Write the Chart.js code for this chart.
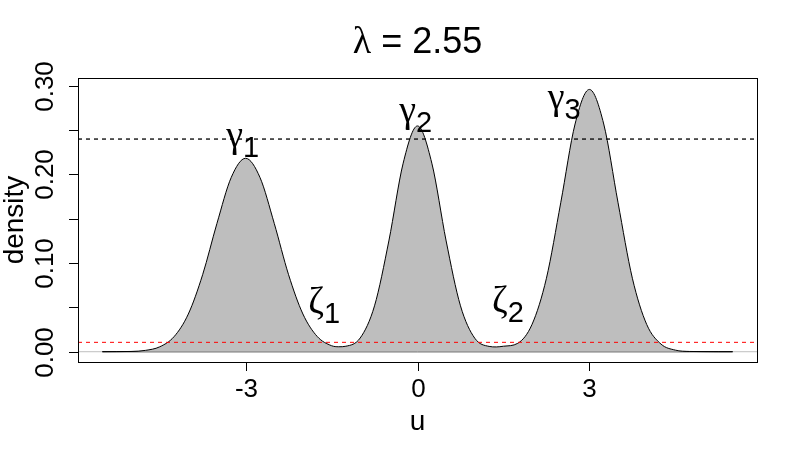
<!DOCTYPE html>
<html>
<head>
<meta charset="utf-8">
<script src="https://cdn.jsdelivr.net/npm/chart.js@4.4.1/dist/chart.umd.min.js"></script>
<style>
  html, body { margin: 0; padding: 0; background: #fff; }
  #wrap { width: 798px; height: 460px; }
</style>
</head>
<body>
<div id="wrap"><canvas id="densityChart" width="798" height="460"></canvas></div>
<script>
// values
const uValues = [-5.5, -5.25, -5, -4.75, -4.5, -4.25, -4, -3.75, -3.5, -3.25,
  -3, -2.75, -2.5, -2.25, -2, -1.75, -1.5, -1.375, -1.25, -1,
  -0.75, -0.5, -0.25, 0, 0.25, 0.5, 0.75, 1, 1.25, 1.375,
  1.5, 1.75, 2, 2.25, 2.5, 2.75, 3, 3.25, 3.5, 3.75,
  4, 4.25, 4.5, 4.75, 5, 5.25, 5.5];
const densityValues = [0, 0.0001, 0.0003, 0.0015, 0.0055, 0.0169, 0.0425, 0.0869, 0.1448, 0.1968,
  0.2183, 0.1968, 0.1448, 0.0869, 0.0426, 0.0172, 0.0068, 0.0056, 0.0062, 0.0155,
  0.0518, 0.1250, 0.2128, 0.2548, 0.2128, 0.1250, 0.0518, 0.0152, 0.0060, 0.0054,
  0.0062, 0.0095, 0.0310, 0.0829, 0.1681, 0.2570, 0.2960, 0.2570, 0.1681, 0.0829,
  0.0308, 0.0086, 0.0018, 0.0003, 0.0001, 0, 0];

const xTicks = [-3, 0, 3];
const xTickLabels = ['-3', '0', '3'];
const yTicks = [0, 0.05, 0.10, 0.15, 0.20, 0.25, 0.30];
const yTickLabels = ['0.00', '', '0.10', '', '0.20', '', '0.30'];

const upperLevel = 0.24;
const lowerLevel = 0.0106;

const markSymbols = ['\u03B3', '\u03B3', '\u03B3', '\u03B6', '\u03B6'];
const markSubs = ['1', '2', '3', '1', '2'];
const markU = [-3.05, -0.03, 2.56, -1.63, 1.58];
const markDensity = [0.231, 0.2596, 0.274, 0.0437, 0.0451];

const titleSymbol = '\u03BB';
const titleRest = ' = 2.55';
const xTitle = 'u';
const yTitle = 'density';

const xMin = -5.925, xMax = 5.925;
const yMin = -0.0116, yMax = 0.3089;

const FONT = '"Liberation Sans", Arial, sans-serif';
const GREEK = '"Liberation Serif", "DejaVu Serif", serif';

function toPoints(xs, ys) {
  return xs.map((x, i) => ({ x: x, y: ys[i] }));
}

function drawSubscripted(ctx, base, sub, cx, baseY) {
  ctx.font = '38px ' + GREEK;
  const wBase = ctx.measureText(base).width;
  ctx.font = '29px ' + FONT;
  const wSub = ctx.measureText(sub).width;
  const left = cx - (wBase + wSub) / 2;
  ctx.textAlign = 'left';
  ctx.textBaseline = 'alphabetic';
  ctx.font = '38px ' + GREEK;
  ctx.fillText(base, left, baseY);
  ctx.font = '29px ' + FONT;
  ctx.fillText(sub, left + wBase, baseY + 10);
}

const rAxesPlugin = {
  id: 'rAxes',
  afterDraw(chart) {
    const ctx = chart.ctx;
    const area = chart.chartArea;
    const xs = chart.scales.x;
    const ys = chart.scales.y;
    const left = Math.round(area.left), right = Math.round(area.right);
    const top = Math.round(area.top), bottom = Math.round(area.bottom);
    ctx.save();
    ctx.fillStyle = '#000';
    ctx.strokeStyle = '#000';
    ctx.lineWidth = 1;
    ctx.setLineDash([]);

    // plot box
    ctx.strokeRect(left + 0.5, top + 0.5, right - left, bottom - top);

    // x axis ticks + labels
    ctx.font = '26px ' + FONT;
    ctx.textAlign = 'center';
    ctx.textBaseline = 'alphabetic';
    xTicks.forEach((v, i) => {
      const px = Math.round(xs.getPixelForValue(v)) + 0.5;
      ctx.beginPath();
      ctx.moveTo(px, bottom + 0.5);
      ctx.lineTo(px, bottom + 9);
      ctx.stroke();
      ctx.fillText(xTickLabels[i], px, bottom + 35);
    });

    // y axis ticks + rotated labels
    yTicks.forEach((v, i) => {
      const py = Math.round(ys.getPixelForValue(v)) + 0.5;
      ctx.beginPath();
      ctx.moveTo(left + 0.5, py);
      ctx.lineTo(left - 9, py);
      ctx.stroke();
      if (yTickLabels[i]) {
        ctx.save();
        ctx.translate(left - 25, py);
        ctx.rotate(-Math.PI / 2);
        ctx.fillText(yTickLabels[i], 0, 0);
        ctx.restore();
      }
    });

    // axis titles
    ctx.font = '28px ' + FONT;
    ctx.fillText(xTitle, (left + right) / 2, 430);
    ctx.save();
    ctx.translate(23, (top + bottom) / 2);
    ctx.rotate(-Math.PI / 2);
    ctx.fillText(yTitle, 0, 0);
    ctx.restore();

    // main title: greek symbol + plain text, centred together
    ctx.font = '38px ' + GREEK;
    const wSym = ctx.measureText(titleSymbol).width;
    ctx.font = '36px ' + FONT;
    const wRest = ctx.measureText(titleRest).width;
    const tLeft = (left + right) / 2 - (wSym + wRest) / 2;
    ctx.textAlign = 'left';
    ctx.font = '38px ' + GREEK;
    ctx.fillText(titleSymbol, tLeft, 53);
    ctx.font = '36px ' + FONT;
    ctx.fillText(titleRest, tLeft + wSym, 53);

    // peak / trough labels
    markSymbols.forEach((s, i) => {
      drawSubscripted(ctx, s, markSubs[i],
        xs.getPixelForValue(markU[i]), ys.getPixelForValue(markDensity[i]));
    });
    ctx.restore();
  }
};

const ctx = document.getElementById('densityChart').getContext('2d');
new Chart(ctx, {
  type: 'line',
  data: {
    datasets: [
      {
        label: 'zero line',
        data: toPoints([xMin, xMax], [0, 0]),
        borderColor: '#bebebe',
        borderWidth: 1,
        pointRadius: 0,
        fill: false,
        order: 4
      },
      {
        label: 'polygon base',
        data: toPoints([uValues[0], uValues[uValues.length - 1]], [0, 0]),
        borderColor: '#000',
        borderWidth: 1,
        pointRadius: 0,
        fill: false,
        order: 3
      },
      {
        label: 'density',
        data: toPoints(uValues, densityValues),
        borderColor: '#000',
        backgroundColor: '#bebebe',
        borderWidth: 1,
        pointRadius: 0,
        cubicInterpolationMode: 'monotone',
        fill: 'origin',
        order: 2
      },
      {
        label: 'lower level',
        data: toPoints([xMin, xMax], [lowerLevel, lowerLevel]),
        borderColor: '#ff0000',
        borderWidth: 1,
        borderDash: [4, 4],
        pointRadius: 0,
        fill: false,
        order: 1
      },
      {
        label: 'upper level',
        data: toPoints([xMin, xMax], [upperLevel, upperLevel]),
        borderColor: '#000',
        borderWidth: 1.3,
        borderDash: [4, 4],
        pointRadius: 0,
        fill: false,
        order: 0
      }
    ]
  },
  options: {
    responsive: false,
    animation: false,
    devicePixelRatio: 1,
    layout: { padding: { top: 78, right: 41, left: 0, bottom: 0 } },
    plugins: {
      legend: { display: false },
      title: { display: false },
      tooltip: { enabled: false }
    },
    scales: {
      x: {
        type: 'linear',
        min: xMin,
        max: xMax,
        grid: { display: false },
        border: { display: false },
        ticks: { display: false },
        afterFit: function(scale) { scale.height = 98; }
      },
      y: {
        type: 'linear',
        min: yMin,
        max: yMax,
        grid: { display: false },
        border: { display: false },
        ticks: { display: false },
        afterFit: function(scale) { scale.width = 78; }
      }
    }
  },
  plugins: [rAxesPlugin]
});
</script>
</body>
</html>
